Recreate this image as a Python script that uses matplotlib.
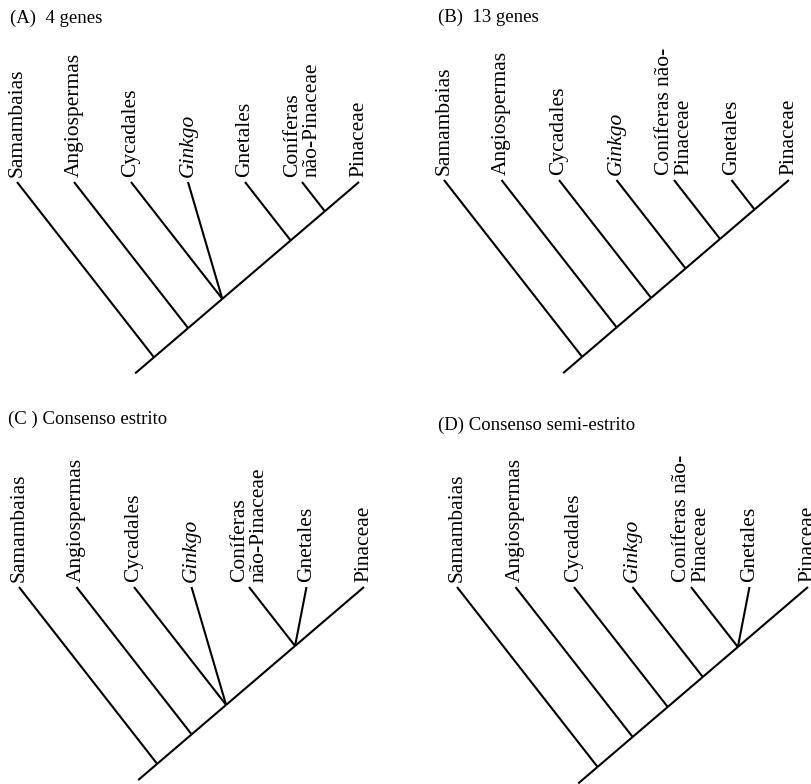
import matplotlib
matplotlib.use("Agg")
import matplotlib.pyplot as plt

# Terminal taxa (left to right) and tree topologies for each panel.
# Tips are indexed by their position; tuples are clades (more than two children = polytomy).
titles = ["(A)  4 genes", "(B)  13 genes", "(C ) Consenso estrito", "(D) Consenso semi-estrito"]

taxa_a = ["Samambaias", "Angiospermas", "Cycadales", "Ginkgo", "Gnetales",
          "Coníferas\nnão-Pinaceae", "Pinaceae"]
taxa_b = ["Samambaias", "Angiospermas", "Cycadales", "Ginkgo",
          "Coníferas não-\nPinaceae", "Gnetales", "Pinaceae"]
taxa_c = ["Samambaias", "Angiospermas", "Cycadales", "Ginkgo",
          "Coníferas\nnão-Pinaceae", "Gnetales", "Pinaceae"]
taxa_d = ["Samambaias", "Angiospermas", "Cycadales", "Ginkgo",
          "Coníferas não-\nPinaceae", "Gnetales", "Pinaceae"]

tree_a = (0, (1, (2, 3, (4, (5, 6)))))
tree_b = (0, (1, (2, (3, (4, (5, 6))))))
tree_c = (0, (1, (2, 3, (4, 5, 6))))
tree_d = (0, (1, (2, (3, (4, 5, 6)))))

italic_taxa = ["Ginkgo"]

# Slanted-cladogram geometry: left branches descend with slope S_LEFT,
# the backbone toward the rightmost tip descends with slope S_RIGHT.
S_LEFT = 1.28
S_RIGHT = 0.855
STEM = 0.33
LW = 1.5
SERIF = ["Liberation Serif", "DejaVu Serif"]

W, H = 812, 784
fig = plt.figure(figsize=(W / 100, H / 100), dpi=100)
fig.patch.set_facecolor("white")


def layout(node, ax):
    """Return (x, y, leftmost, rightmost) of a node, drawing its branches."""
    if isinstance(node, int):
        return float(node), 0.0, node, node
    kids = [layout(ch, ax) for ch in node]
    left = min(k[2] for k in kids)
    right = max(k[3] for k in kids)
    t = S_RIGHT * (right - left) / (S_LEFT + S_RIGHT)
    x, y = left + t, S_LEFT * t
    for kx, ky, _, _ in kids:
        ax.plot([kx, x], [ky, y], color="black", lw=LW, solid_capstyle="butt")
    return x, y, left, right


# panel box in pixels (left, top), first-tip x, tip y and tip spacing in pixels
panels = [
    (0, 0, 17, 182, 57.0),
    (406, 0, 444, 180, 57.5),
    (0, 392, 19, 587, 57.5),
    (406, 392, 457, 587, 58.5),
]
title_pos = [(10, 18), (438, 17), (8, 419), (438, 425)]

all_taxa = [taxa_a, taxa_b, taxa_c, taxa_d]
all_trees = [tree_a, tree_b, tree_c, tree_d]

for (px0, py0, x0, ytip, sp), taxa, tree, title, (tx, ty) in zip(
        panels, all_taxa, all_trees, titles, title_pos):
    pw, ph = 406, 392
    ax = fig.add_axes([px0 / W, 1 - (py0 + ph) / H, pw / W, ph / H])
    ax.set_xlim((px0 - x0) / sp, (px0 + pw - x0) / sp)
    ax.set_ylim((py0 + ph - ytip) / sp, (py0 - ytip) / sp)
    ax.axis("off")

    rx, ry, _, _ = layout(tree, ax)
    ax.plot([rx, rx - STEM], [ry, ry + S_RIGHT * STEM], color="black",
            lw=LW, solid_capstyle="butt")

    for i, name in enumerate(taxa):
        ax.text(i, -0.08, name, rotation=90, ha="center", va="bottom",
                ma="left", fontsize=15.5, family=SERIF, linespacing=1.05,
                fontstyle="italic" if name in italic_taxa else "normal")

    fig.text(tx / W, 1 - ty / H, title, ha="left", va="center",
             fontsize=13.5, family=SERIF)

fig.savefig("out.png", dpi=100, facecolor="white")
